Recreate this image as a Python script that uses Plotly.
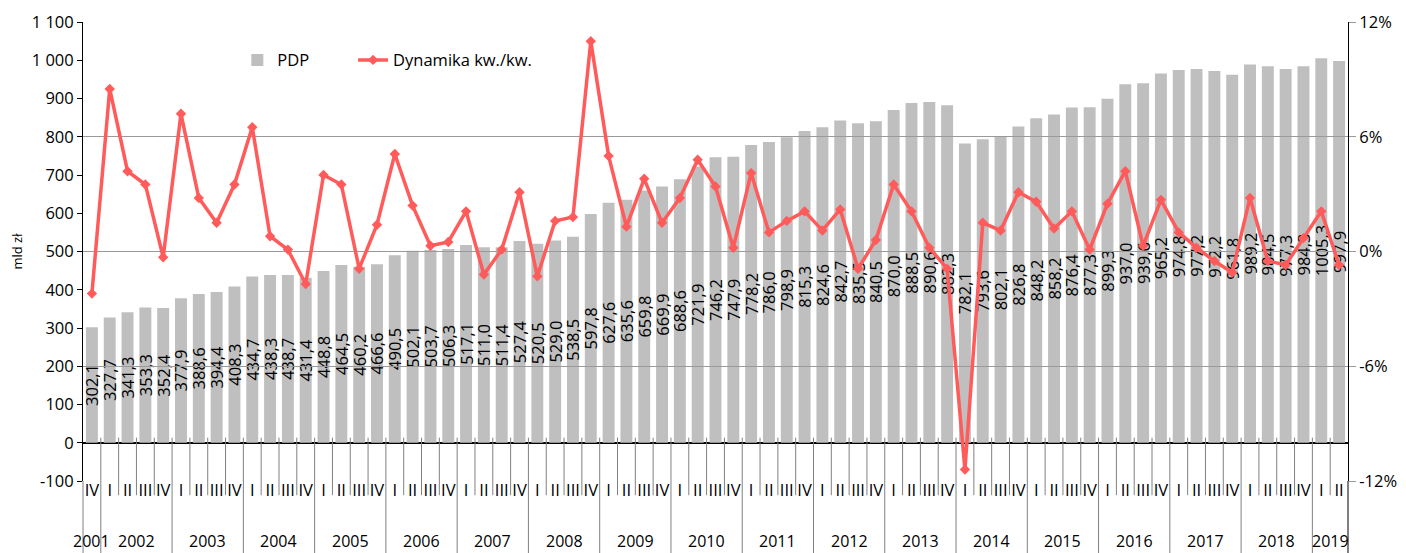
import plotly.graph_objects as go

# ---- data ----
PDP = [302.1, 327.7, 341.3, 353.3, 352.4, 377.9, 388.6, 394.4, 408.3, 434.7,
       438.3, 438.7, 431.4, 448.8, 464.5, 460.2, 466.6, 490.5, 502.1, 503.7,
       506.3, 517.1, 511.0, 511.4, 527.4, 520.5, 529.0, 538.5, 597.8, 627.6,
       635.6, 659.8, 669.9, 688.6, 721.9, 746.2, 747.9, 778.2, 786.0, 798.9,
       815.3, 824.6, 842.7, 835.5, 840.5, 870.0, 888.5, 890.6, 882.3, 782.1,
       793.6, 802.1, 826.8, 848.2, 858.2, 876.4, 877.3, 899.3, 937.0, 939.6,
       965.2, 974.8, 977.2, 972.2, 961.8, 989.2, 984.5, 977.3, 984.3, 1005.3,
       997.9]

DYN = [-2.2, 8.5, 4.2, 3.5, -0.3, 7.2, 2.8, 1.5, 3.5, 6.5,
       0.8, 0.1, -1.7, 4.0, 3.5, -0.9, 1.4, 5.1, 2.4, 0.3,
       0.5, 2.1, -1.2, 0.1, 3.1, -1.3, 1.6, 1.8, 11.0, 5.0,
       1.3, 3.8, 1.5, 2.8, 4.8, 3.4, 0.2, 4.1, 1.0, 1.6,
       2.1, 1.1, 2.2, -0.9, 0.6, 3.5, 2.1, 0.2, -0.9, -11.4,
       1.5, 1.1, 3.1, 2.6, 1.2, 2.1, 0.1, 2.5, 4.2, 0.3,
       2.7, 1.0, 0.2, -0.5, -1.1, 2.8, -0.5, -0.7, 0.7, 2.1,
       -0.7]

YEAR_LABELS = ["2001", "2002", "2003", "2004", "2005", "2006", "2007", "2008",
               "2009", "2010", "2011", "2012", "2013", "2014", "2015", "2016",
               "2017", "2018", "2019"]
QUARTERS_IN_YEAR = [["IV"]] + [["I", "II", "III", "IV"]] * 17 + [["I", "II"]]

Y_TICKS = [-100, 0, 100, 200, 300, 400, 500, 600, 700, 800, 900, 1000, 1100]
Y2_TICKS = [-12, -6, 0, 6, 12]

# ---- derived category arrays ----
QUARTERS = [q for qs in QUARTERS_IN_YEAR for q in qs]
YEARS = [y for y, qs in zip(YEAR_LABELS, QUARTERS_IN_YEAR) for _ in qs]
X = list(range(len(PDP)))

Y_RANGE = [Y_TICKS[0], Y_TICKS[-1]]
Y2_RANGE = [Y2_TICKS[0], Y2_TICKS[-1]]

FONT = "Open Sans"
FS = 16.5
BAR_COLOR = "#BFBFBF"
LINE_COLOR = "#FF5B5B"
GRID_COLOR = "#9A9A9A"
DIV_COLOR = "#808080"

MARGIN = dict(l=83, r=58, t=22, b=72)
PLOT_H = 553 - MARGIN["t"] - MARGIN["b"]

fig = go.Figure()
fig.add_trace(go.Bar(
    x=X, y=PDP, name="PDP",
    marker=dict(color=BAR_COLOR, line=dict(width=0)),
    texttemplate="%{y:.1f}", textposition="inside", insidetextanchor="middle",
    textangle=-90, constraintext="none",
    insidetextfont=dict(family=FONT, size=FS, color="#000000"),
    xaxis="x", yaxis="y", hoverinfo="skip", legend="legend",
))
fig.add_trace(go.Scatter(
    x=X, y=DYN, name="Dynamika kw./kw.", mode="lines+markers",
    line=dict(color=LINE_COLOR, width=3.5),
    marker=dict(symbol="diamond", size=8, color=LINE_COLOR),
    xaxis="x2", yaxis="y2", hoverinfo="skip", legend="legend2",
))

# category dividers under the bars (multi-level axis look)
y_zero = (0 - Y_RANGE[0]) / (Y_RANGE[1] - Y_RANGE[0])
y_bottom = -MARGIN["b"] / PLOT_H
shapes = []
for b in range(1, len(X)):
    boundary = X[b] - 0.5
    new_year = YEARS[b] != YEARS[b - 1]
    shapes.append(dict(type="line", xref="x", yref="paper",
                       x0=boundary, x1=boundary, y0=y_zero + 0.011,
                       y1=y_bottom if new_year else -0.031,
                       line=dict(color=DIV_COLOR, width=1), layer="above"))
for edge in (0, 1):
    shapes.append(dict(type="line", xref="paper", yref="paper",
                       x0=edge, x1=edge, y0=0, y1=y_bottom,
                       line=dict(color="#000000" if edge == 1 else DIV_COLOR, width=1)))

annotations = []
for yl in YEAR_LABELS:
    idx = [i for i, y in zip(X, YEARS) if y == yl]
    annotations.append(dict(x=sum(idx) / len(idx), xref="x", y=y_bottom, yref="paper",
                            text=yl, showarrow=False, yanchor="bottom",
                            borderpad=0,
                            font=dict(family=FONT, size=16, color="#000000")))

legend_common = dict(orientation="h", xanchor="left", yanchor="top",
                     bgcolor="rgba(0,0,0,0)", font=dict(family=FONT, size=FS))

fig.update_layout(
    width=1406, height=553,
    margin=dict(**MARGIN, autoexpand=False),
    paper_bgcolor="white", plot_bgcolor="rgba(0,0,0,0)",
    font=dict(family=FONT, size=FS, color="#000000"),
    separators=", ",
    bargap=0.33,
    showlegend=True,
    legend=dict(x=0.122, y=0.955, **legend_common),
    legend2=dict(x=0.2135, y=0.955, **legend_common),
    xaxis=dict(domain=[0, 1], anchor="y", range=[-0.5, len(X) - 0.5],
               tickmode="array", tickvals=X, ticktext=QUARTERS, ticks="",
               showline=False, showgrid=False, zeroline=False, automargin=False,
               tickfont=dict(family=FONT, size=FS), ticklabelstandoff=-3),
    xaxis2=dict(domain=[0, 1], anchor="y2", matches="x", visible=False),
    yaxis=dict(domain=[0, 1], anchor="x", range=Y_RANGE,
               tickmode="array", tickvals=Y_TICKS,
               ticktext=[f"{v:,}".replace(",", " ") for v in Y_TICKS],
               ticks="outside", ticklen=5, tickcolor="#000000",
               showline=True, linecolor="#000000", linewidth=1,
               showgrid=False, zeroline=True, zerolinecolor="#000000", zerolinewidth=1.5,
               tickfont=dict(family=FONT, size=FS), automargin=False,
               title=dict(text="mld zł", font=dict(family=FONT, size=13), standoff=6)),
    yaxis2=dict(domain=[0, 1], anchor="x2", side="right", range=Y2_RANGE,
                tickmode="array", tickvals=Y2_TICKS,
                ticktext=[f"{v}%" for v in Y2_TICKS],
                ticks="outside", ticklen=7, tickcolor=GRID_COLOR,
                showline=True, linecolor="#000000", linewidth=1,
                showgrid=True, gridcolor=GRID_COLOR, gridwidth=1, zeroline=False,
                tickfont=dict(family=FONT, size=FS), automargin=False),
    shapes=shapes,
    annotations=annotations,
)

fig.write_html("out.html", config={"displayModeBar": False},
               post_script="document.body.style.margin='0';")
